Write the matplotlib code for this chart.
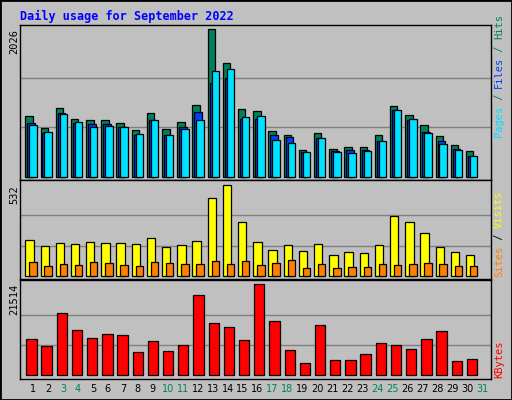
import numpy as np
import matplotlib.pyplot as plt
from matplotlib.patches import Rectangle

days = list(range(1, 32))
weekend = [3, 4, 10, 11, 17, 18, 24, 25, 31]
hits = [827, 662, 937, 786, 772, 772, 730, 634, 868, 648, 744, 979, 2026, 1557, 923,
        896, 620, 565, 358, 593, 372, 400, 400, 565, 965, 841, 703, 551, 427, 345]
files = [730, 593, 868, 730, 717, 717, 675, 565, 772, 565, 675, 882, 1282, 1351, 786,
         786, 565, 537, 331, 524, 345, 358, 358, 482, 910, 772, 606, 482, 372, 289]
pages = [703, 606, 854, 744, 675, 689, 675, 579, 772, 565, 648, 772, 1447, 1475, 813,
         827, 496, 455, 331, 524, 331, 317, 345, 482, 910, 786, 593, 441, 358, 289]
visits = [209, 174, 192, 186, 197, 192, 192, 186, 221, 168, 180, 203, 453, 532, 313,
          197, 151, 180, 145, 186, 122, 139, 133, 180, 348, 313, 250, 168, 139, 122]
sites = [81, 58, 70, 64, 81, 75, 64, 58, 81, 75, 70, 70, 87, 70, 87,
         64, 75, 93, 46, 70, 46, 52, 52, 70, 64, 70, 75, 70, 58, 58]
kbytes = [8510, 6856, 14657, 10638, 8747, 9692, 9456, 5437, 8038, 5674, 7092, 18912, 12293,
          11347, 8274, 21514, 12766, 5910, 2837, 11820, 3546, 3546, 4964, 7565, 7092,
          6146, 8510, 10402, 3310, 3782]

BG = "#c0c0c0"
W, H = 512, 400
fig = plt.figure(figsize=(W / 100, H / 100), dpi=100, facecolor=BG)
fig.patches.append(Rectangle((0, 0), 1, 1, transform=fig.transFigure, fill=False,
                             edgecolor="black", lw=2))

def ax_px(x0, y0, x1, y1):
    return fig.add_axes([x0 / W, 1 - y1 / H, (x1 - x0) / W, (y1 - y0) / H])

mono = "DejaVu Sans Mono"
fig.text(20 / W, 1 - 16 / H, "Daily usage for September 2022", color="#0000ff",
         family=mono, weight="bold", fontsize=8.5, va="center")

x = np.arange(len(hits))

def setup(ax, ymin, ymax, top):
    ax.set_facecolor(BG)
    ax.set_xlim(0, 31)
    ax.set_ylim(ymin, ymax)
    for t in (top / 3, 2 * top / 3):
        ax.axhline(t, color="#808080", lw=1, zorder=0)
    ax.set_xticks([])
    ax.set_yticks([])
    for s in ax.spines.values():
        s.set_color("black")
        s.set_linewidth(1)

bk = dict(edgecolor="black", linewidth=0.9, align="edge")

ax1 = ax_px(20, 25, 491, 180)
setup(ax1, -48, 2085, 2026)
ax1.bar(x + 0.35, hits, 0.49, color="#00805c", **bk)
ax1.bar(x + 0.48, files, 0.49, color="#0040ff", **bk)
ax1.bar(x + 0.61, pages, 0.49, color="#00e0ff", **bk)

ax2 = ax_px(20, 180, 491, 279)
setup(ax2, -15.7, 559, 532)
ax2.bar(x + 0.35, visits, 0.55, color="#ffff00", **bk)
ax2.bar(x + 0.61, sites, 0.49, color="#ff8000", **bk)

ax3 = ax_px(20, 280, 491, 379)
setup(ax3, -875, 22531, 21514)
ax3.bar(x + 0.41, kbytes, 0.68, color="#ff0000", **bk)

# max labels on the left
for y, txt in [(29, "2026"), (185, "532"), (284, "21514")]:
    fig.text(14 / W, 1 - y / H, txt, rotation=90, ha="center", va="top",
             family=mono, fontsize=7.5, color="black")

# right side legends (read bottom to top)
def vlabel(parts, ybottom):
    y = ybottom
    for txt, col in parts:
        fig.text(499 / W, 1 - y / H, txt, rotation=90, ha="center", va="bottom",
                 family=mono, fontsize=7.5, color=col)
        y -= len(txt) * 6.1

vlabel([("Pages", "#00e0ff"), (" / ", "#00805c"), ("Files", "#0040ff"),
        (" / ", "#00805c"), ("Hits", "#00805c")], 137)
vlabel([("Sites", "#ff8000"), (" / ", "#000000"), ("Visits", "#ffff00")], 277)
vlabel([("KBytes", "#ff0000")], 378)

for d in days:
    col = "#00805c" if d in weekend else "black"
    fig.text((33 + (d - 1) * 14.97) / W, 1 - 389 / H, str(d), ha="center",
             va="center", fontsize=7, color=col, family="DejaVu Sans")

fig.savefig("out.png", dpi=100, facecolor=BG)
